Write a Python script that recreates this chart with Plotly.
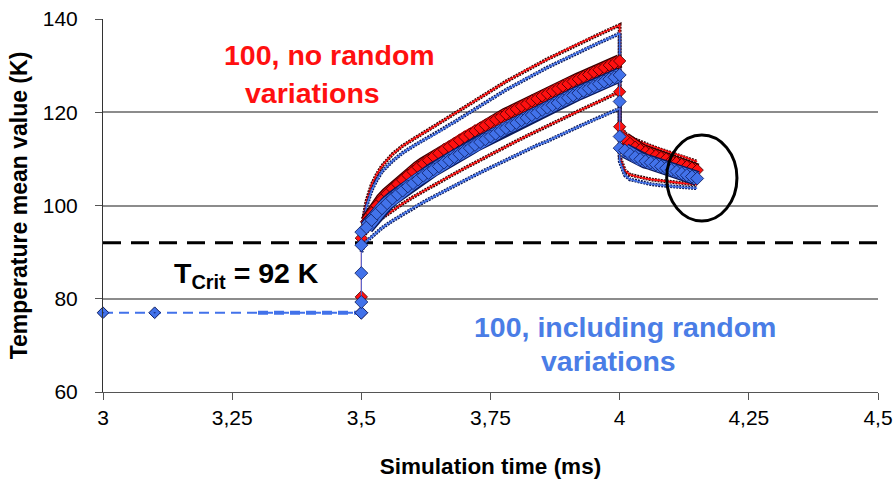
import plotly.graph_objects as go

# ---------------- data ----------------
x_ticks = [3, 3.25, 3.5, 3.75, 4, 4.25, 4.5]
y_ticks = [60, 80, 100, 120, 140]
T_crit = 92

# before the pulse
t_pre = [3.0, 3.1, 3.5]
T_pre = [77, 77, 77]
t_pre2 = [3.3, 3.5]
T_pre2 = [77, 77]

# dense outputs (bands)
t_rise = [3.51, 3.52, 3.53, 3.54, 3.55, 3.56, 3.57, 3.58, 3.59, 3.60,
          3.61, 3.62, 3.63, 3.64, 3.65, 3.66, 3.67, 3.68, 3.69, 3.70,
          3.71, 3.72, 3.73, 3.74, 3.75, 3.76, 3.77, 3.78, 3.79, 3.80,
          3.81, 3.82, 3.83, 3.84, 3.85, 3.86, 3.87, 3.88, 3.89, 3.90,
          3.91, 3.92, 3.93, 3.94, 3.95, 3.96, 3.97, 3.98, 3.99, 4.00]
t_decay = [4.01, 4.02, 4.03, 4.04, 4.05, 4.06, 4.07, 4.08, 4.09, 4.10,
           4.11, 4.12, 4.13, 4.14, 4.15]

red_jump = [77, 80.4, 93.0]
red_rise = [96.5, 98.4, 100.0, 101.3, 102.5, 103.6, 104.6, 105.5, 106.5, 107.3,
            108.2, 109.0, 109.7, 110.5, 111.2, 112.0, 112.6, 113.3, 114.0, 114.7,
            115.3, 116.0, 116.6, 117.2, 117.8, 118.4, 119.0, 119.6, 120.1, 120.7,
            121.3, 121.8, 122.4, 122.9, 123.5, 124.0, 124.5, 125.0, 125.6, 126.1,
            126.6, 127.1, 127.6, 128.1, 128.6, 129.1, 129.6, 130.1, 130.5, 131.0]
red_drop = [124.4, 116.9]
red_decay = [114.3, 113.3, 112.5, 112.0, 111.5, 111.1, 110.7, 110.3, 110.0, 109.6,
             109.2, 108.8, 108.4, 108.0, 107.6]

blue_jump = [77, 79.3, 85.5, 91.5, 94.3]
blue_rise = [95.3, 96.9, 98.3, 99.4, 100.5, 101.5, 102.4, 103.2, 104.1, 104.8,
             105.6, 106.4, 107.0, 107.8, 108.4, 109.2, 109.7, 110.4, 111.0, 111.7,
             112.3, 113.0, 113.6, 114.2, 114.8, 115.4, 116.0, 116.6, 117.1, 117.7,
             118.3, 118.8, 119.4, 119.9, 120.5, 121.0, 121.5, 122.0, 122.6, 123.1,
             123.6, 124.1, 124.6, 125.1, 125.6, 126.1, 126.6, 127.1, 127.5, 128.0]
blue_drop = [122.3, 114.8, 112.3]
blue_decay = [111.8, 111.0, 110.4, 109.9, 109.5, 109.2, 108.8, 108.4, 108.0, 107.6,
              107.3, 106.9, 106.5, 106.2, 105.8]

# envelope lines (min / max)
t_thin_rise = [3.5, 3.505, 3.51, 3.52, 3.53, 3.54, 3.56, 3.58, 3.60, 3.62,
               3.64, 3.66, 3.68, 3.70, 3.72, 3.74, 3.76, 3.78, 3.80, 3.82,
               3.84, 3.86, 3.88, 3.90, 3.92, 3.94, 3.96, 3.98, 4.00]
t_thin_decay = [4.0, 4.01, 4.02, 4.04, 4.06, 4.08, 4.10, 4.12, 4.14, 4.15]

up_red_rise = [92, 98, 101, 104.5, 106.7, 108.5, 111, 112.8, 114.2, 115.5,
               116.9, 118.3, 119.7, 121.1, 122.5, 123.9, 125.3, 126.6, 127.8, 129.1,
               130.2, 131.4, 132.5, 133.6, 134.7, 135.7, 136.7, 137.7, 138.7]
up_blue_rise = [90.8, 96.8, 99.8, 103.3, 105.5, 107.3, 109.5, 111.3, 112.7, 114.0,
                115.1, 116.5, 117.9, 119.3, 120.7, 122.1, 123.5, 124.8, 126.0, 127.3,
                128.4, 129.6, 130.7, 131.8, 132.9, 133.9, 134.9, 135.9, 136.9]
low_red_rise = [92, 93.5, 94.3, 95.4, 96.4, 97.3, 98.9, 100.4, 101.8, 103.1,
                104.4, 105.6, 106.8, 108.0, 109.2, 110.4, 111.5, 112.6, 113.8, 114.9,
                116.0, 117.0, 118.1, 119.2, 120.2, 121.3, 122.3, 123.4, 124.4]
low_blue_rise = [90.0, 91.5, 92.3, 93.3, 94.3, 95.2, 96.7, 98.1, 99.5, 100.7,
                 101.9, 103.1, 104.2, 105.4, 106.5, 107.6, 108.7, 109.7, 110.8, 111.9,
                 112.9, 113.8, 114.9, 115.9, 116.9, 117.9, 118.8, 119.9, 120.8]

up_red_decay = [117.5, 115.5, 114.6, 113.6, 112.8, 112.0, 111.3, 110.6, 109.8, 109.4]
up_blue_decay = [116.0, 114.2, 113.3, 112.3, 111.5, 110.7, 110.0, 109.3, 108.6, 108.3]
low_red_decay = [110.5, 107.5, 106.6, 106.0, 105.6, 105.3, 105.0, 104.8, 104.6, 104.5]
low_blue_decay = [109.5, 106.5, 105.6, 105.0, 104.6, 104.3, 104.1, 103.9, 103.7, 103.7]

# ---------------- styles ----------------
RED = '#ff1010'
RED_DARK = '#3a0000'
BLUE = '#4272ea'
BLUE_DARK = '#0b1a5c'
BLUE_TEXT = '#4a7de6'
FONT = 'Liberation Sans, Arial, sans-serif'

fig = go.Figure()

# pre-pulse dashed series
fig.add_trace(go.Scatter(x=t_pre2, y=T_pre2, mode='lines',
                         line=dict(color=BLUE, width=4, dash='10px,6px'),
                         hoverinfo='skip'))
fig.add_trace(go.Scatter(x=t_pre, y=T_pre, mode='lines+markers',
                         line=dict(color=BLUE, width=2, dash='10px,6px'),
                         marker=dict(symbol='diamond-dot', size=9, color=BLUE,
                                     line=dict(color=BLUE_DARK, width=1)),
                         cliponaxis=False))

# envelope lines: dark outline + coloured core
envelopes = [
    (up_red_rise, up_red_decay, RED, RED_DARK),
    (up_blue_rise, up_blue_decay, BLUE, BLUE_DARK),
    (low_red_rise, low_red_decay, RED, RED_DARK),
    (low_blue_rise, low_blue_decay, BLUE, BLUE_DARK),
]
for rise, decay, col, dark in envelopes:
    xs = t_thin_rise + t_thin_decay
    ys = rise + decay
    fig.add_trace(go.Scatter(x=xs, y=ys, mode='lines',
                             line=dict(color=dark, width=3.8, dash='2px,1px'),
                             hoverinfo='skip'))
    fig.add_trace(go.Scatter(x=xs, y=ys, mode='lines',
                             line=dict(color=col, width=1.6),
                             hoverinfo='skip'))


def add_band(jump, rise, drop, decay, col, dark, body_w, msize):
    # continuous body of the dense output band
    for xs, ys in ((t_rise, rise), (t_decay, decay)):
        fig.add_trace(go.Scatter(x=xs, y=ys, mode='lines',
                                 line=dict(color=dark, width=body_w + 2.5), hoverinfo='skip'))
        fig.add_trace(go.Scatter(x=xs, y=ys, mode='lines',
                                 line=dict(color=col, width=body_w), hoverinfo='skip'))
    bx = [3.5] * len(jump) + t_rise + [4.0] * len(drop) + t_decay
    by = jump + rise + drop + decay
    fig.add_trace(go.Scatter(x=bx, y=by, mode='lines+markers',
                             line=dict(color=col, width=1),
                             marker=dict(symbol='diamond', size=msize, color=col,
                                         line=dict(color=dark, width=0.8))))


add_band(red_jump, red_rise, red_drop, red_decay, RED, RED_DARK, 11, 9.5)
add_band(blue_jump, blue_rise, blue_drop, blue_decay, BLUE, BLUE_DARK, 12.5, 10)

# critical temperature line and highlight ellipse
fig.add_shape(type='line', xref='paper', x0=0, x1=1, yref='y', y0=T_crit, y1=T_crit,
              line=dict(color='black', width=3, dash='18px,10px'), layer='below')
fig.add_shape(type='circle', xref='x', yref='y', x0=4.091, x1=4.227, y0=96.7, y1=115.1,
              line=dict(color='black', width=3))

ann_font = dict(family=FONT, size=28.5)
annotations = [
    dict(x=3.439, y=132.2, text='<b>100, no random</b>', font=dict(ann_font, color=RED)),
    dict(x=3.406, y=124.2, text='<b>variations</b>', font=dict(ann_font, color=RED)),
    dict(x=4.010, y=73.9, text='<b>100, including random</b>', font=dict(ann_font, color=BLUE_TEXT)),
    dict(x=3.979, y=66.6, text='<b>variations</b>', font=dict(ann_font, color=BLUE_TEXT)),
    dict(x=3.278, y=85.2, text='<b>T<sub>Crit</sub> = 92 K</b>', font=dict(ann_font, color='black')),
]
for a in annotations:
    fig.add_annotation(xref='x', yref='y', showarrow=False, xanchor='center', yanchor='middle', **a)

fig.update_layout(
    width=893, height=482,
    margin=dict(l=103, r=15, t=19, b=90),
    plot_bgcolor='white', paper_bgcolor='white',
    separators=',.',
    showlegend=False,
    font=dict(family=FONT, color='black'),
)
fig.update_xaxes(range=[3, 4.5], tickvals=x_ticks, ticks='outside', ticklen=7,
                 tickcolor='#555', showline=True, linecolor='#555', linewidth=1,
                 showgrid=False, zeroline=False, automargin=False,
                 tickfont=dict(family=FONT, size=21, color='black'),
                 title=dict(text='<b>Simulation time (ms)</b>',
                            font=dict(family=FONT, size=22.5, color='black'), standoff=30))
fig.update_yaxes(range=[60, 140], tickvals=y_ticks, ticks='outside', ticklen=7,
                 tickcolor='#555', showline=True, linecolor='#333', linewidth=1,
                 showgrid=True, gridcolor='#8c8c8c', gridwidth=1.5, zeroline=False,
                 automargin=False, ticklabelstandoff=13,
                 tickfont=dict(family=FONT, size=21, color='black'),
                 title=dict(text='<b>Temperature mean value (K)</b>',
                            font=dict(family=FONT, size=23, color='black'), standoff=8))

fig.write_html('out.html')
